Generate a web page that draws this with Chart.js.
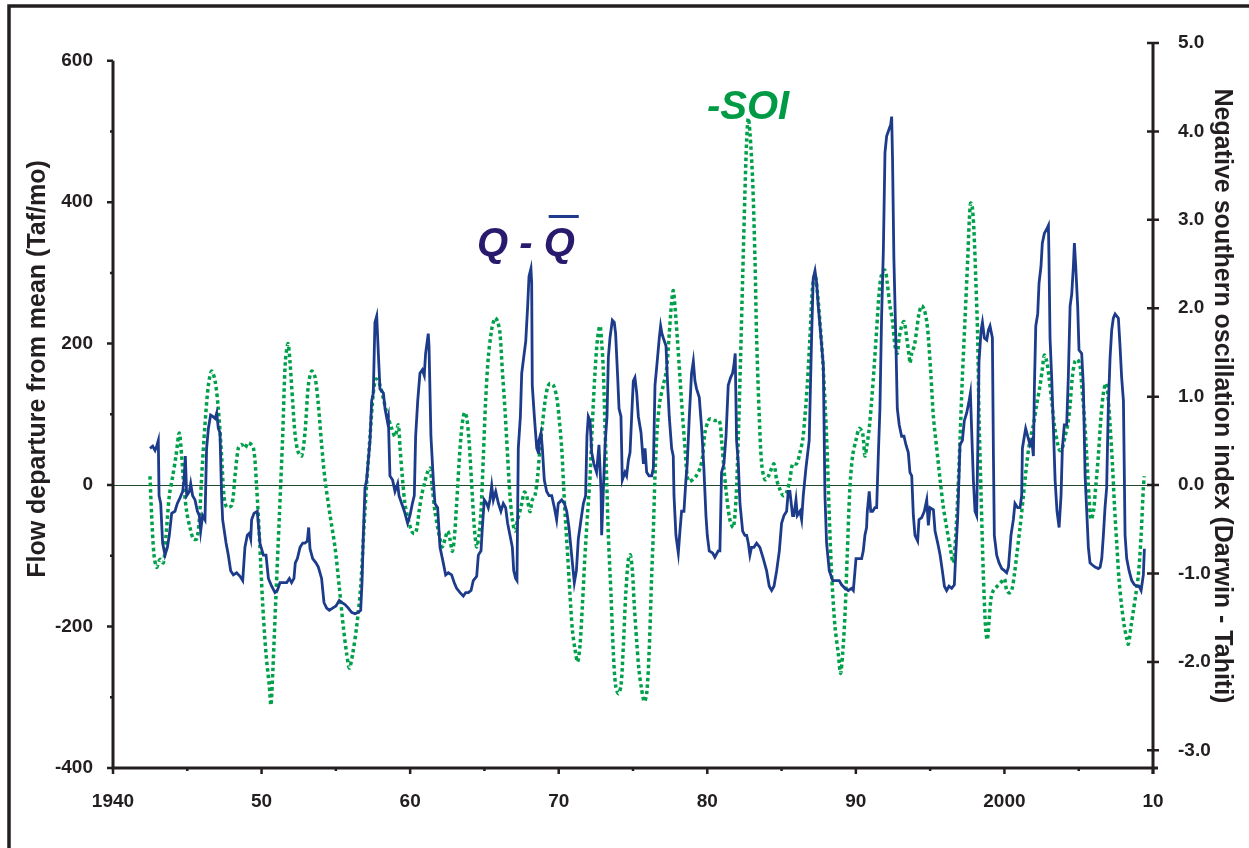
<!DOCTYPE html>
<html>
<head>
<meta charset="utf-8">
<script src="https://cdn.jsdelivr.net/npm/chart.js@4.4.1/dist/chart.umd.min.js"></script>
<style>
  html, body { margin: 0; padding: 0; background: #fff; }
  canvas { display: block; }
</style>
</head>
<body>
<canvas id="grafico" width="1249" height="848"></canvas>
<script>
// -------------------- Dados --------------------

// Q - Qbar (Taf/mo)
const flowYears = [
  1942.49,1942.67,1942.83,1942.94,1943.05,1943.10,1943.21,1943.34,1943.50,1943.66,1943.79,1943.95,
  1944.17,1944.33,1944.51,1944.69,1944.78,1944.87,1944.96,1945.14,1945.23,1945.36,1945.52,1945.68,
  1945.81,1945.90,1946.03,1946.19,1946.30,1946.42,1946.57,1946.71,1946.87,1946.98,1947.09,1947.20,
  1947.31,1947.38,1947.61,1947.76,1947.92,1948.10,1948.32,1948.55,1948.73,1948.88,1949.04,1949.18,
  1949.27,1949.33,1949.49,1949.71,1949.89,1950.12,1950.30,1950.46,1950.68,1950.90,1951.06,1951.24,
  1951.46,1951.69,1951.87,1952.02,1952.18,1952.27,1952.41,1952.59,1952.77,1952.92,1953.08,1953.17,
  1953.26,1953.44,1953.66,1953.82,1954.04,1954.20,1954.38,1954.56,1954.78,1955.01,1955.23,1955.39,
  1955.62,1955.84,1956.06,1956.29,1956.51,1956.67,1956.76,1956.85,1956.96,1957.07,1957.30,1957.41,
  1957.52,1957.63,1957.75,1957.86,1957.97,1958.20,1958.31,1958.46,1958.53,1958.64,1958.82,1958.98,
  1959.16,1959.25,1959.43,1959.61,1959.83,1959.99,1960.15,1960.28,1960.37,1960.51,1960.66,1960.82,
  1960.95,1961.04,1961.22,1961.27,1961.40,1961.56,1961.67,1961.85,1962.01,1962.23,1962.39,1962.57,
  1962.79,1962.97,1963.13,1963.36,1963.58,1963.74,1963.92,1964.10,1964.25,1964.48,1964.59,1964.77,
  1964.86,1964.99,1965.15,1965.26,1965.37,1965.49,1965.60,1965.76,1965.94,1966.11,1966.27,1966.43,
  1966.56,1966.72,1966.88,1966.97,1967.10,1967.19,1967.28,1967.42,1967.51,1967.64,1967.78,1967.91,
  1968.00,1968.13,1968.18,1968.22,1968.36,1968.52,1968.63,1968.67,1968.81,1968.90,1969.03,1969.19,
  1969.35,1969.53,1969.71,1969.86,1969.97,1970.20,1970.38,1970.54,1970.69,1970.87,1971.05,1971.19,
  1971.32,1971.50,1971.66,1971.81,1971.90,1971.99,1972.11,1972.22,1972.37,1972.55,1972.71,1972.85,
  1972.89,1973.00,1973.12,1973.25,1973.34,1973.45,1973.61,1973.74,1973.83,1973.97,1974.06,1974.19,
  1974.28,1974.46,1974.57,1974.69,1974.80,1974.91,1975.02,1975.13,1975.25,1975.36,1975.54,1975.70,
  1975.81,1975.92,1976.08,1976.26,1976.37,1976.48,1976.63,1976.77,1976.86,1976.95,1977.04,1977.22,
  1977.31,1977.44,1977.60,1977.71,1977.76,1977.89,1978.05,1978.16,1978.27,1978.43,1978.56,1978.65,
  1978.79,1978.94,1979.06,1979.17,1979.28,1979.46,1979.62,1979.77,1979.91,1980.00,1980.13,1980.36,
  1980.51,1980.74,1980.85,1980.96,1981.12,1981.26,1981.41,1981.57,1981.70,1981.79,1981.88,1981.97,
  1982.09,1982.20,1982.38,1982.53,1982.65,1982.76,1982.87,1982.98,1983.14,1983.32,1983.54,1983.77,
  1983.99,1984.17,1984.33,1984.49,1984.67,1984.85,1985.00,1985.16,1985.34,1985.45,1985.56,1985.74,
  1985.83,1985.97,1986.06,1986.24,1986.35,1986.46,1986.64,1986.86,1987.02,1987.13,1987.25,1987.36,
  1987.47,1987.63,1987.81,1987.92,1988.03,1988.21,1988.44,1988.66,1988.88,1989.04,1989.27,1989.49,
  1989.71,1989.83,1990.01,1990.16,1990.39,1990.50,1990.61,1990.72,1990.77,1990.90,1991.00,1991.13,
  1991.28,1991.40,1991.51,1991.62,1991.73,1991.85,1991.96,1992.07,1992.25,1992.34,1992.41,1992.47,
  1992.56,1992.70,1992.79,1992.92,1993.08,1993.24,1993.37,1993.53,1993.64,1993.76,1993.87,1993.98,
  1994.16,1994.25,1994.43,1994.61,1994.77,1994.88,1994.99,1995.22,1995.33,1995.51,1995.67,1995.82,
  1995.96,1996.11,1996.27,1996.45,1996.63,1996.72,1996.86,1997.01,1997.17,1997.30,1997.46,1997.62,
  1997.71,1997.80,1997.91,1998.02,1998.13,1998.20,1998.29,1998.43,1998.52,1998.65,1998.81,1998.92,
  1999.03,1999.19,1999.26,1999.32,1999.48,1999.64,1999.82,2000.00,2000.15,2000.27,2000.44,2000.60,
  2000.71,2000.89,2001.05,2001.16,2001.21,2001.34,2001.43,2001.57,2001.72,2001.84,2001.95,2002.02,
  2002.11,2002.24,2002.33,2002.46,2002.55,2002.69,2002.85,2002.96,2003.00,2003.07,2003.18,2003.29,
  2003.41,2003.54,2003.68,2003.81,2003.90,2004.03,2004.19,2004.30,2004.42,2004.53,2004.64,2004.71,
  2004.80,2004.93,2005.02,2005.20,2005.31,2005.43,2005.54,2005.65,2005.76,2005.92,2006.10,2006.32,
  2006.44,2006.55,2006.66,2006.77,2006.88,2006.99,2007.11,2007.22,2007.33,2007.45,2007.56,2007.67,
  2007.78,2007.89,2008.01,2008.12,2008.23,2008.39,2008.57,2008.75,2008.90,2009.06,2009.20,2009.35,
  2009.42
];
const flowValues = [
  52,55,49,55,63,-15,-26,-82,-99,-88,-71,-40,
  -37,-26,-18,-9,7,41,-15,-9,2,-15,-21,-37,
  -43,-65,-43,-49,52,80,99,97,94,102,80,74,
  -15,-49,-82,-99,-121,-127,-124,-129,-135,-88,-71,-68,
  -76,-49,-40,-37,-82,-99,-99,-132,-143,-152,-149,-138,
  -138,-138,-132,-138,-132,-110,-104,-88,-82,-82,-79,-60,
  -90,-104,-110,-116,-132,-166,-174,-177,-174,-171,-163,-166,
  -169,-174,-180,-182,-180,-177,-138,-71,-4,7,63,119,
  130,230,239,186,136,130,108,91,97,13,7,-9,
  2,-15,-26,-37,-54,-43,-26,-15,69,119,158,163,
  155,186,214,197,69,7,-26,-32,-88,-110,-127,-124,
  -127,-138,-146,-152,-157,-152,-152,-149,-135,-129,-99,-93,
  -60,-21,-26,-32,-21,-1,-21,-9,-26,-37,-26,-32,
  -54,-71,-88,-121,-132,-135,52,97,158,180,203,253,
  295,306,286,141,97,52,46,63,74,52,7,-9,
  -15,-15,-32,-49,-26,-21,-26,-37,-60,-99,-138,-121,
  -76,-49,-26,-15,69,97,91,46,30,18,57,-9,
  -71,-9,57,97,180,208,233,230,214,152,108,97,
  7,18,13,35,46,97,147,152,130,97,74,30,
  52,18,13,13,24,141,175,208,225,214,208,197,
  152,97,52,41,-15,-71,-96,-65,-37,-37,7,30,
  97,158,175,147,136,124,80,24,-43,-71,-93,-96,
  -102,-93,-93,18,30,69,141,152,158,169,186,63,
  30,-26,-65,-71,-71,-82,-99,-88,-88,-82,-88,-104,
  -121,-143,-149,-143,-121,-93,-54,-43,-37,-9,-9,-43,
  -43,-21,-43,-37,-49,-15,24,63,208,292,303,286,
  253,214,169,-15,-82,-121,-135,-135,-135,-141,-146,-149,
  -146,-149,-104,-104,-104,-93,-71,-60,-37,-9,-37,-37,
  -32,-32,41,108,236,331,470,493,504,509,521,459,
  320,197,108,85,69,69,57,46,18,13,-43,-71,
  -79,-49,-46,-37,-21,-57,-32,-35,-65,-82,-99,-121,
  -143,-149,-143,-146,-141,-99,-43,57,63,91,102,119,
  130,74,7,-37,-43,41,175,219,230,208,205,219,
  225,208,41,-71,-99,-110,-118,-121,-124,-116,-71,-49,
  -26,-32,-32,-15,52,69,80,69,57,63,41,141,
  225,242,286,309,342,356,362,367,320,208,152,85,
  7,-37,-60,-15,52,85,85,152,253,270,309,342,
  309,253,191,186,141,13,-37,-88,-110,-113,-116,-118,
  -116,-104,-71,-32,-4,108,180,219,236,242,239,236,
  197,152,119,-71,-104,-121,-135,-141,-143,-143,-149,-127,
  -90
];

// -SOI (Darwin - Tahiti)
const soiYears = [
  1942.49,1942.60,1942.76,1942.94,1943.16,1943.39,1943.57,1943.79,1944.02,1944.24,1944.46,1944.62,
  1944.78,1944.96,1945.18,1945.41,1945.63,1945.81,1945.97,1946.19,1946.42,1946.64,1946.87,1947.09,
  1947.31,1947.47,1947.65,1947.99,1948.21,1948.44,1948.66,1948.88,1949.11,1949.45,1949.67,1949.85,
  1950.07,1950.30,1950.52,1950.63,1950.75,1950.97,1951.20,1951.42,1951.60,1951.78,1951.91,1952.09,
  1952.27,1952.47,1952.70,1952.92,1953.15,1953.37,1953.60,1953.82,1954.04,1954.27,1954.61,1954.94,
  1955.23,1955.50,1955.73,1955.91,1956.13,1956.40,1956.67,1956.89,1957.07,1957.30,1957.52,1957.70,
  1957.97,1958.42,1958.76,1958.98,1959.20,1959.32,1959.47,1959.65,1959.88,1960.10,1960.28,1960.44,
  1960.60,1960.77,1960.95,1961.18,1961.34,1961.49,1961.67,1961.85,1962.01,1962.17,1962.35,1962.53,
  1962.68,1962.84,1962.97,1963.13,1963.29,1963.47,1963.65,1963.80,1963.96,1964.14,1964.32,1964.48,
  1964.63,1964.77,1964.93,1965.08,1965.26,1965.49,1965.71,1965.89,1966.05,1966.20,1966.38,1966.56,
  1966.72,1966.88,1967.06,1967.24,1967.46,1967.69,1967.84,1968.07,1968.22,1968.40,1968.58,1968.74,
  1968.90,1969.08,1969.26,1969.41,1969.64,1969.86,1970.02,1970.20,1970.31,1970.42,1970.60,1970.76,
  1970.92,1971.10,1971.27,1971.43,1971.59,1971.77,1971.95,1972.11,1972.26,1972.44,1972.62,1972.78,
  1972.89,1973.00,1973.12,1973.23,1973.34,1973.52,1973.68,1973.83,1974.01,1974.19,1974.35,1974.51,
  1974.69,1974.82,1974.96,1975.09,1975.25,1975.40,1975.58,1975.76,1975.92,1976.08,1976.26,1976.36,
  1976.48,1976.63,1976.81,1977.04,1977.26,1977.44,1977.60,1977.71,1977.82,1977.98,1978.16,1978.34,
  1978.50,1978.65,1978.79,1979.01,1979.24,1979.51,1979.69,1979.84,1980.07,1980.22,1980.52,1980.81,
  1980.96,1981.12,1981.30,1981.52,1981.75,1981.93,1982.09,1982.24,1982.38,1982.53,1982.65,1982.76,
  1982.87,1983.05,1983.21,1983.32,1983.50,1983.66,1983.88,1984.11,1984.33,1984.49,1984.67,1984.89,
  1985.11,1985.34,1985.56,1985.74,1986.01,1986.24,1986.42,1986.57,1986.73,1986.91,1987.09,1987.25,
  1987.40,1987.58,1987.76,1987.92,1988.08,1988.21,1988.37,1988.59,1988.82,1988.97,1989.11,1989.27,
  1989.42,1989.60,1989.78,1990.01,1990.23,1990.45,1990.61,1990.72,1990.90,1991.06,1991.22,1991.40,
  1991.58,1991.73,1991.96,1992.11,1992.29,1992.47,1992.63,1992.79,1992.92,1993.08,1993.24,1993.42,
  1993.60,1993.65,1993.76,1993.94,1994.10,1994.25,1994.43,1994.61,1994.77,1994.88,1995.06,1995.22,
  1995.44,1995.67,1995.89,1996.11,1996.34,1996.56,1996.72,1996.86,1997.01,1997.17,1997.35,1997.53,
  1997.64,1997.73,1997.84,1997.95,1998.07,1998.20,1998.29,1998.43,1998.58,1998.74,1998.85,1998.96,
  1999.10,1999.26,1999.48,1999.77,2000.00,2000.15,2000.31,2000.49,2000.67,2000.83,2001.05,2001.28,
  2001.50,2001.72,2001.95,2002.17,2002.40,2002.55,2002.69,2002.85,2003.00,2003.18,2003.36,2003.59,
  2003.74,2003.90,2004.08,2004.26,2004.42,2004.57,2004.75,2004.93,2005.09,2005.20,2005.38,2005.54,
  2005.69,2005.83,2005.99,2006.14,2006.32,2006.50,2006.66,2006.82,2006.95,2007.11,2007.27,2007.40,
  2007.56,2007.71,2007.89,2008.07,2008.23,2008.34,2008.52,2008.68,2008.84,2009.02,2009.20,2009.35,
  2009.42
];
const soiValues = [
  0.10,-0.34,-0.79,-0.93,-0.84,-0.88,-0.57,-0.12,0.10,0.33,0.59,0.33,
  -0.03,-0.30,-0.48,-0.61,-0.61,-0.39,0.10,0.68,1.13,1.29,1.18,0.86,
  0.33,-0.12,-0.25,-0.23,0.10,0.42,0.46,0.42,0.48,0.42,-0.03,-0.57,
  -1.33,-1.91,-2.27,-2.49,-2.13,-1.24,-0.34,0.55,1.40,1.60,1.40,0.95,
  0.55,0.37,0.33,0.59,1.13,1.29,1.22,0.91,0.46,0.06,-0.34,-0.70,
  -1.15,-1.60,-1.91,-2.07,-1.91,-1.60,-1.15,-0.48,0.01,0.55,1.04,1.20,
  1.13,0.82,0.64,0.55,0.68,0.42,0.10,-0.21,-0.39,-0.52,-0.55,-0.50,
  -0.30,-0.12,0.01,0.15,0.19,-0.03,-0.30,-0.48,-0.61,-0.70,-0.61,-0.52,
  -0.61,-0.75,-0.61,-0.21,0.24,0.64,0.82,0.77,0.51,0.01,-0.48,-0.70,
  -0.57,-0.30,0.33,0.95,1.44,1.76,1.89,1.85,1.71,1.31,0.86,0.33,
  -0.12,-0.39,-0.52,-0.39,-0.25,-0.08,-0.12,-0.30,-0.17,-0.12,0.10,0.42,
  0.68,0.95,1.11,1.15,1.13,1.00,0.77,0.42,0.06,-0.30,-0.79,-1.24,
  -1.64,-1.86,-2.00,-1.82,-1.37,-0.79,-0.30,0.10,0.68,1.27,1.67,1.80,
  1.62,1.31,0.64,0.06,-0.57,-1.24,-1.91,-2.27,-2.36,-2.27,-1.82,-1.24,
  -0.84,-0.79,-0.97,-1.37,-1.77,-2.09,-2.31,-2.45,-2.36,-1.91,-1.01,-0.57,
  0.10,0.64,0.95,1.13,1.31,1.71,2.07,2.20,2.03,1.67,1.22,0.77,
  0.42,0.10,0.04,0.06,0.10,0.19,0.33,0.59,0.73,0.75,0.73,0.73,
  0.51,0.19,-0.12,-0.39,-0.48,-0.17,0.55,1.44,2.34,3.28,3.90,4.15,
  3.99,3.46,2.56,1.67,0.77,0.24,0.06,0.10,0.19,0.24,0.06,-0.05,
  -0.12,-0.08,0.06,0.24,0.24,0.37,0.51,0.77,1.13,1.67,2.25,2.38,
  2.20,1.85,1.44,0.95,0.33,-0.34,-1.01,-1.59,-1.91,-2.13,-1.91,-1.46,
  -0.79,-0.03,0.33,0.51,0.64,0.59,0.33,0.42,0.64,0.95,1.31,1.76,
  2.20,2.38,2.43,2.29,2.03,1.85,1.58,1.49,1.67,1.80,1.85,1.67,
  1.44,1.38,1.49,1.58,1.76,1.94,2.03,1.98,1.85,1.67,1.22,0.77,
  0.42,0.06,-0.25,-0.48,-0.70,-0.88,-0.57,-0.12,0.51,1.22,1.89,2.56,
  3.01,3.19,3.14,2.87,2.34,1.67,0.77,-0.12,-1.01,-1.64,-1.75,-1.55,
  -1.28,-1.19,-1.15,-1.10,-1.06,-1.19,-1.22,-1.19,-1.01,-0.79,-0.48,-0.12,
  0.24,0.51,0.68,0.91,1.13,1.31,1.47,1.40,1.22,0.95,0.68,0.46,
  0.39,0.42,0.55,0.68,0.91,1.22,1.40,1.42,1.35,1.13,0.77,0.33,
  -0.12,-0.39,-0.30,-0.03,0.33,0.77,1.04,1.15,1.04,0.68,0.24,-0.21,
  -0.66,-1.06,-1.37,-1.60,-1.73,-1.80,-1.60,-1.42,-1.24,-1.01,-0.57,-0.03,
  0.10
];

// Eixos
const xTickValues = [1940, 1950, 1960, 1970, 1980, 1990, 2000, 2010];
const xTickLabels = ['1940', '50', '60', '70', '80', '90', '2000', '10'];
const flowTicks = [-400, -200, 0, 200, 400, 600];
const soiTicks = [-3, -2, -1, 0, 1, 2, 3, 4, 5];

const corTexto = '#231f20';
const fonteTicks = { family: "Arial, 'Liberation Sans', sans-serif", size: 19, weight: 'bold' };

// -------------------- Plugin de desenho extra --------------------
const extras = {
  id: 'extras',
  beforeDatasetsDraw(chart) {
    const { ctx, chartArea, scales } = chart;
    const y0 = Math.round(scales.yFlow.getPixelForValue(0)) + 0.5;
    ctx.save();
    ctx.strokeStyle = '#1f4a2c';
    ctx.lineWidth = 1;
    ctx.beginPath();
    ctx.moveTo(chartArea.left, y0);
    ctx.lineTo(chartArea.right, y0);
    ctx.stroke();
    ctx.restore();
  },
  afterDraw(chart) {
    const { ctx, chartArea, scales } = chart;
    const xs = scales.x, yl = scales.yFlow, yr = scales.ySoi;
    const L = chartArea.left, R = chartArea.right, B = chartArea.bottom;
    ctx.save();
    ctx.strokeStyle = corTexto;
    ctx.lineCap = 'butt';

    // moldura externa
    ctx.lineWidth = 3.5;
    ctx.beginPath();
    ctx.moveTo(9, 848);
    ctx.lineTo(9, 6);
    ctx.lineTo(1249, 6);
    ctx.stroke();

    // linhas dos eixos
    ctx.lineWidth = 3;
    ctx.beginPath();
    ctx.moveTo(L, yl.getPixelForValue(600));
    ctx.lineTo(L, B + 1.5);
    ctx.moveTo(L - 1.5, B);
    ctx.lineTo(R + 5, B);
    ctx.moveTo(R, yr.getPixelForValue(5));
    ctx.lineTo(R, B + 6);
    ctx.stroke();

    // marcas
    ctx.lineWidth = 2.5;
    ctx.beginPath();
    for (let v = -400; v <= 600; v += 100) {
      const y = yl.getPixelForValue(v);
      const len = v % 200 === 0 ? 6 : 3;
      ctx.moveTo(L, y); ctx.lineTo(L - len, y);
    }
    for (let a = 1940; a <= 2010; a += 5) {
      const x = xs.getPixelForValue(a);
      const len = a % 10 === 0 ? 6 : 3;
      ctx.moveTo(x, B); ctx.lineTo(x, B + len);
    }
    soiTicks.forEach(v => {
      const y = yr.getPixelForValue(v);
      ctx.moveTo(R - 6, y); ctx.lineTo(R + 6, y);
    });
    ctx.stroke();

    // títulos dos eixos
    ctx.fillStyle = corTexto;
    ctx.font = "bold 25px Arial, 'Liberation Sans', sans-serif";
    ctx.textAlign = 'center';
    ctx.textBaseline = 'middle';
    ctx.save();
    ctx.translate(38, 369);
    ctx.rotate(-Math.PI / 2);
    ctx.fillText('Flow departure from mean (Taf/mo)', 0, 0);
    ctx.restore();
    ctx.save();
    ctx.translate(1222, 396);
    ctx.rotate(Math.PI / 2);
    ctx.fillText('Negative southern oscillation index (Darwin - Tahiti)', 0, 0);
    ctx.restore();

    // rótulos das séries
    ctx.textAlign = 'left';
    ctx.textBaseline = 'alphabetic';
    ctx.font = "italic bold 40px Arial, 'Liberation Sans', sans-serif";
    ctx.fillStyle = '#2a1a6e';
    const qx = 477, qy = 256;
    ctx.fillText('Q - Q', qx, qy);
    const wPre = ctx.measureText('Q - ').width;
    const wAll = ctx.measureText('Q - Q').width;
    ctx.fillStyle = '#1f3a8a';
    ctx.fillRect(qx + wPre + 5, 215, wAll - wPre - 1, 3);
    ctx.fillStyle = '#009a45';
    ctx.fillText('-SOI', 707, 119);
    ctx.restore();
  }
};

// -------------------- Gráfico --------------------
new Chart(document.getElementById('grafico'), {
  type: 'line',
  data: {
    datasets: [
      {
        label: 'Q - Q',
        data: flowYears.map((x, i) => ({ x, y: flowValues[i] })),
        yAxisID: 'yFlow',
        borderColor: '#1d3b8b',
        borderWidth: 2.8,
        pointRadius: 0,
        tension: 0
      },
      {
        label: '-SOI',
        data: soiYears.map((x, i) => ({ x, y: soiValues[i] })),
        yAxisID: 'ySoi',
        borderColor: '#00a04a',
        borderWidth: 3.5,
        borderDash: [3.5, 3],
        borderCapStyle: 'butt',
        pointRadius: 0,
        tension: 0.3
      }
    ]
  },
  options: {
    responsive: false,
    animation: false,
    devicePixelRatio: 1,
    layout: { padding: { top: 43, left: 0, right: 0, bottom: 0 } },
    plugins: { legend: { display: false }, tooltip: { enabled: false } },
    scales: {
      x: {
        type: 'linear',
        min: 1940,
        max: 2010,
        afterBuildTicks: s => { s.ticks = xTickValues.map(v => ({ value: v })); },
        afterFit: s => { s.height = 80; },
        grid: { display: false, drawTicks: false },
        border: { display: false },
        ticks: {
          padding: 22,
          font: fonteTicks,
          color: corTexto,
          maxRotation: 0,
          autoSkip: false,
          callback: (v, i) => xTickLabels[i]
        }
      },
      yFlow: {
        position: 'left',
        min: -400,
        max: 625,
        afterBuildTicks: s => { s.ticks = flowTicks.map(v => ({ value: v })); },
        afterFit: s => { s.width = 113; },
        grid: { display: false, drawTicks: false },
        border: { display: false },
        ticks: { padding: 20, font: fonteTicks, color: corTexto }
      },
      ySoi: {
        position: 'right',
        min: -3.2,
        max: 5.0,
        afterBuildTicks: s => { s.ticks = soiTicks.map(v => ({ value: v })); },
        afterFit: s => { s.width = 96; },
        grid: { display: false, drawTicks: false },
        border: { display: false },
        ticks: { padding: 25, font: fonteTicks, color: corTexto, callback: v => Number(v).toFixed(1) }
      }
    }
  },
  plugins: [extras]
});
</script>
</body>
</html>
